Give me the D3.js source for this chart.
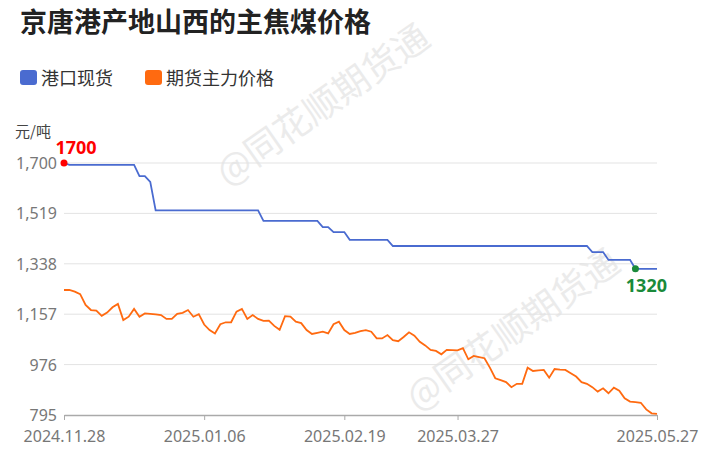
<!DOCTYPE html>
<html><head><meta charset="utf-8">
<script src="https://cdn.jsdelivr.net/npm/d3@7"></script>
<style>body{margin:0;background:#fff;font-family:"Noto Sans CJK SC","Noto Sans",sans-serif}</style>
</head><body><svg id="c" width="716" height="460"></svg>
<script>
const spotValues=[1700,1693,1693,1693,1693,1693,1693,1693,1693,1693,1693,1693,1693,1693,1653,1653,1632,
1530,1530,1530,1530,1530,1530,1530,1530,1530,1530,1530,1530,1530,1530,1530,1530,1530,1530,1530,1530,
1492,1492,1492,1492,1492,1492,1492,1492,1492,1492,1492,1470,1470,1452,1452,1452,
1424,1424,1424,1424,1424,1424,1424,1424,
1402,1402,1402,1402,1402,1402,1402,1402,1402,1402,1402,1402,1402,1402,1402,1402,1402,1402,1402,1402,1402,1402,1402,1402,1402,1402,1402,1402,1402,1402,1402,1402,1402,1402,1402,1402,1402,
1380,1380,1380,1352,1352,1352,1352,1352,1320,1320,1320,1320,1320];
const futuresValues=[1244,1244,1238,1229,1190,1172,1170,1151,1163,1182,1194,1136,1148,1176,1148,1160,1158,1156,1154,1140,1140,1158,1162,1172,1148,1157,1120,1100,1088,1121,1128,1128,1166,1176,1140,1154,1140,1133,1134,1115,1101,1150,1148,1130,1125,1100,1086,1090,1094,1088,1121,1130,1100,1086,1090,1096,1100,1094,1070,1070,1082,1064,1060,1075,1092,1080,1058,1045,1029,1025,1013,1029,1028,1027,1035,995,1007,1003,999,965,927,920,913,895,907,907,965,953,955,957,929,960,958,957,945,933,913,907,895,879,891,873,893,882,855,843,841,839,815,801,799];
const tickLabels=["2024.11.28","2025.01.06","2025.02.19","2025.03.27","2025.05.27"];
const tickIndex=[0,26,52,73,110];
const yTicks=[795,976,1157,1338,1519,1700];
const seriesNames=["港口现货","期货主力价格"];
const colors=["#4a6bd0","#ff6a10"];

const svg=d3.select("#c");
const L=64,R=657,T=163,B=415;
const x=d3.scaleLinear().domain([0,spotValues.length-1]).range([L,R]);
const y=d3.scaleLinear().domain([795,1700]).range([B,T]);

[[330,115],[520,340]].forEach(([wx,wy])=>svg.append("text").attr("transform",`translate(${wx},${wy}) rotate(-35)`)
 .attr("text-anchor","middle").attr("font-size",36).attr("fill","#ebebeb").text("@同花顺期货通"));

svg.append("text").attr("x",20).attr("y",32).attr("font-size",27).attr("font-weight","bold").attr("fill","#222").text("京唐港产地山西的主焦煤价格");
seriesNames.forEach((n,i)=>{
 const lx=[20,145][i];
 svg.append("rect").attr("x",lx).attr("y",70).attr("width",17).attr("height",15).attr("rx",3).attr("fill",colors[i]);
 svg.append("text").attr("x",lx+21).attr("y",85).attr("font-size",18).attr("fill","#333").text(n);
});
svg.append("text").attr("x",15).attr("y",137).attr("font-size",15).attr("fill","#444").text("元/吨");

svg.append("g").selectAll("line").data(yTicks.slice(1)).join("line")
 .attr("x1",L).attr("x2",R).attr("y1",d=>y(d)).attr("y2",d=>y(d)).attr("stroke","#e3e3e3");
svg.append("g").selectAll("text").data(yTicks).join("text")
 .attr("x",57).attr("y",d=>y(d)+6).attr("text-anchor","end").attr("font-size",16).attr("fill","#777")
 .attr("font-family","Noto Sans,sans-serif").text(d3.format(","));

const xa=svg.append("g").attr("transform",`translate(0,${B})`)
 .call(d3.axisBottom(x).tickValues(tickIndex).tickFormat((d,i)=>tickLabels[i]).tickSize(5).tickSizeOuter(0));
xa.select(".domain").attr("stroke","#aaa").attr("stroke-width",1.5);
xa.selectAll(".tick line").attr("stroke","#aaa");
xa.selectAll(".tick text").attr("font-size",16).attr("fill","#777").attr("dy","1.2em").attr("font-family","Noto Sans,sans-serif");

const line=d3.line().x((d,i)=>x(i)).y(d=>y(d));
[spotValues,futuresValues].forEach((s,k)=>svg.append("path").datum(s).attr("d",line).attr("fill","none").attr("stroke",colors[k]).attr("stroke-width",1.8));

svg.append("circle").attr("cx",x(0)).attr("cy",y(spotValues[0])).attr("r",3.5).attr("fill","#f00");
svg.append("text").attr("x",x(0)+12).attr("y",y(spotValues[0])-9).attr("text-anchor","middle").attr("font-size",18).attr("font-weight","bold").attr("fill","#f00").attr("font-family","Noto Sans,sans-serif").text(spotValues[0]);
const li=106;
svg.append("circle").attr("cx",x(li)).attr("cy",y(spotValues[li])).attr("r",3.5).attr("fill","#1a8a3a");
svg.append("text").attr("x",x(li)+11).attr("y",y(spotValues[li])+23).attr("text-anchor","middle").attr("font-size",18).attr("font-weight","bold").attr("fill","#1a8a3a").attr("font-family","Noto Sans,sans-serif").text(spotValues[li]);
</script></body></html>
